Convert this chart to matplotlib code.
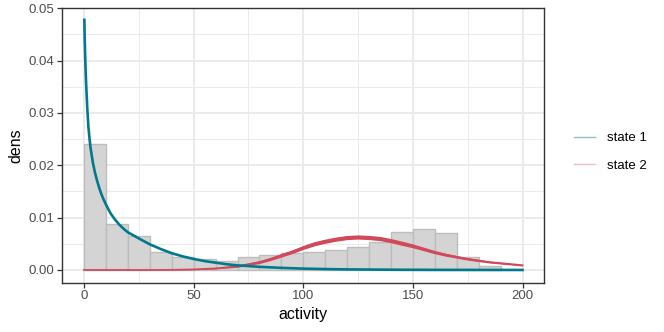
import matplotlib
matplotlib.use("Agg")
import matplotlib.pyplot as plt
from matplotlib.lines import Line2D
from matplotlib.ticker import MultipleLocator

plt.rcParams['font.family'] = ['Liberation Sans', 'DejaVu Sans']

# histogram of observed activity (density, bin width 10)
bin_left = [0, 10, 20, 30, 40, 50, 60, 70, 80, 90,
            100, 110, 120, 130, 140, 150, 160, 170, 180]
bin_dens = [0.0240, 0.00875, 0.0064, 0.0035, 0.00243, 0.0021, 0.0017, 0.00255, 0.0028, 0.0032,
            0.0035, 0.0038, 0.0044, 0.0054, 0.0072, 0.0079, 0.0071, 0.00255, 0.00077]

# state-dependent densities
s1_x = [0.15, 0.3, 0.5, 0.75, 1.0, 1.5, 2.0, 2.5, 3.0, 4, 5, 6, 7, 8, 9, 10,
        12, 14, 16, 18, 20, 23, 26, 30, 35, 40, 45, 50, 55, 60, 65, 70,
        80, 90, 100, 110, 120, 140, 160, 180, 200]
s1_y = [0.0478, 0.0445, 0.0412, 0.0380, 0.0353, 0.0308, 0.0274, 0.0251, 0.0233, 0.0206,
        0.0186, 0.0170, 0.0156, 0.0144, 0.0134, 0.0125, 0.0109, 0.0097, 0.0087, 0.0079,
        0.0072, 0.0065, 0.0058, 0.0049, 0.0040, 0.0032, 0.0026, 0.0021, 0.0017, 0.0014,
        0.0011, 0.00088, 0.0006, 0.0004, 0.00026, 0.00017, 0.00011, 0.00005, 0.00002,
        0.00001, 0.0]

s2_x = [0, 10, 20, 30, 40, 50, 60, 70, 75, 80, 85, 90, 95, 100, 105, 110, 115, 120,
        125, 130, 135, 140, 145, 150, 155, 160, 165, 170, 175, 180, 185, 190, 195, 200]
s2_y = [0.0, 0.0, 0.0, 0.0, 0.00002, 0.0001, 0.0003, 0.0007, 0.0011, 0.0015, 0.0021,
        0.0028, 0.0035, 0.0043, 0.0050, 0.0055, 0.0059, 0.0062, 0.0063, 0.0062, 0.0060,
        0.0056, 0.0051, 0.0046, 0.0040, 0.0034, 0.0029, 0.0025, 0.0021, 0.0018, 0.0015,
        0.0013, 0.0011, 0.0009]
# half-width of the band of posterior draws for state 2
s2_spread = [0, 0, 0, 0, 0, 0.00004, 0.0001, 0.00018, 0.00023, 0.00027, 0.0003,
             0.00033, 0.00036, 0.00038, 0.0004, 0.0004, 0.0004, 0.0004, 0.0004, 0.0004,
             0.0004, 0.0004, 0.0004, 0.00037, 0.00034, 0.00031, 0.00028, 0.00025, 0.00022,
             0.0002, 0.00018, 0.00016, 0.00015, 0.00014]

state_labels = ['state 1', 'state 2']
teal = '#00798c'
red = '#d1495b'

fig = plt.figure(figsize=(6.64, 3.32), dpi=100)
ax = fig.add_axes([0.0935, 0.149, 0.7265, 0.826])

ax.bar(bin_left, bin_dens, width=10, align='edge', color='#D4D4D4',
       edgecolor='#BDBDBD', linewidth=1.0, zorder=2)
lo = [y - s for y, s in zip(s2_y, s2_spread)]
hi = [y + s for y, s in zip(s2_y, s2_spread)]
ax.fill_between(s2_x, lo, hi, color=red, lw=0, zorder=3)
ax.plot(s2_x, s2_y, color=red, lw=1.3, zorder=3)
ax.plot(s1_x, s1_y, color=teal, lw=1.9, zorder=4)

ax.set_xlim(-10, 210)
ax.set_ylim(-0.0024, 0.0500)
ax.xaxis.set_major_locator(MultipleLocator(50))
ax.xaxis.set_minor_locator(MultipleLocator(25))
ax.yaxis.set_major_locator(MultipleLocator(0.01))
ax.yaxis.set_minor_locator(MultipleLocator(0.005))
ax.yaxis.set_major_formatter(plt.FuncFormatter(lambda v, p: f"{v:.2f}"))

ax.grid(which='major', color='#EBEBEB', lw=1.4, zorder=0)
ax.grid(which='minor', color='#EBEBEB', lw=0.7, zorder=0)
ax.set_axisbelow(True)
for sp in ax.spines.values():
    sp.set_color('#333333')
    sp.set_linewidth(1.0)
ax.tick_params(which='major', length=3.5, width=0.9, color='#333333',
               labelcolor='#4D4D4D', labelsize=9.5, pad=2)
ax.tick_params(which='minor', length=0)

ax.set_xlabel('activity', fontsize=11.5, labelpad=3.5)
ax.set_ylabel('dens', fontsize=11.5, labelpad=4)

handles = [Line2D([], [], color=teal, lw=1.0, alpha=0.45),
           Line2D([], [], color=red, lw=1.0, alpha=0.35)]
fig.legend(handles, state_labels, loc='center left', bbox_to_anchor=(0.846, 0.543),
           frameon=False, fontsize=9.5, handlelength=1.6, handletextpad=0.9,
           labelspacing=1.15)

fig.savefig('out.png', dpi=100)
